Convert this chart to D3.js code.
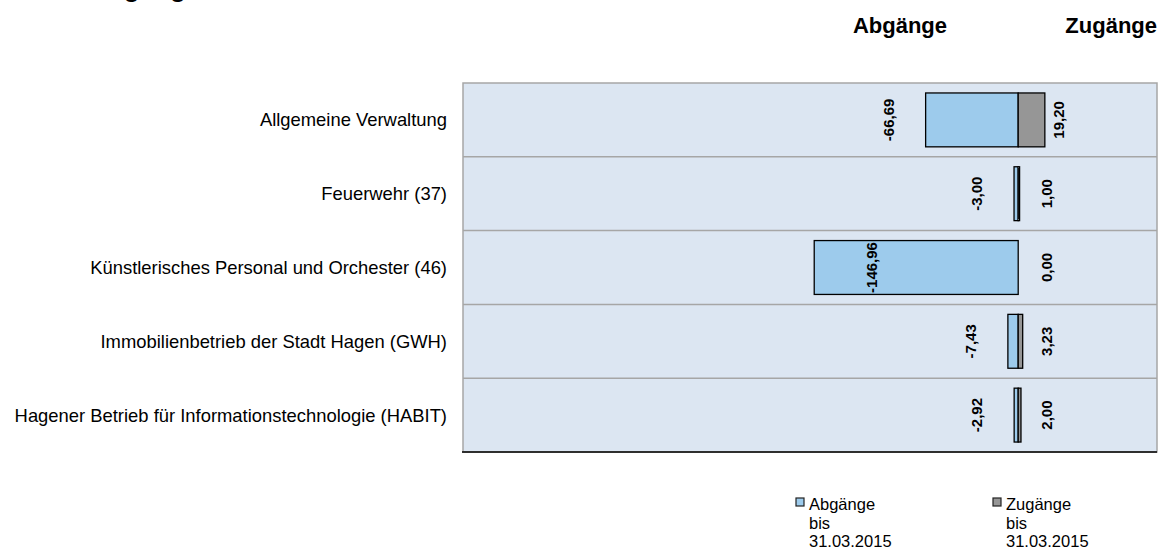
<!DOCTYPE html>
<html>
<head>
<meta charset="utf-8">
<script src="https://d3js.org/d3.v7.min.js"></script>
<style>
  html, body { margin: 0; padding: 0; background: #ffffff; }
  svg { display: block; font-family: "Liberation Sans", Arial, sans-serif; }
</style>
</head>
<body>
<div id="chart"></div>
<script>
// Chart data
const categories = [
    "Allgemeine Verwaltung",
    "Feuerwehr (37)",
    "Künstlerisches Personal und Orchester (46)",
    "Immobilienbetrieb der Stadt Hagen (GWH)",
    "Hagener Betrieb für Informationstechnologie (HABIT)"
];
const abgaenge = [-66.69, -3.00, -146.96, -7.43, -2.92];
const zugaenge = [19.20, 1.00, 0.00, 3.23, 2.00];
const seriesNames = ["Abgänge", "Zugänge"];
const legendNames = ["Abgänge\nbis\n31.03.2015", "Zugänge\nbis\n31.03.2015"];

// Dimensions
const width = 1161;
const height = 550;
const plot = { left: 463, right: 1157, top: 83, bottom: 452 };

const colorAb = "#9dcbec";
const colorZu = "#969696";

// German number format with a plain hyphen as minus sign
const locale = d3.formatLocale({ decimal: ",", thousands: ".", grouping: [3], currency: ["", " €"], minus: "-" });
const fmt = locale.format(".2f");

const x = d3.scaleLinear()
    .domain([-400, 100])
    .range([plot.left, plot.right]);

const rows = d3.scaleBand()
    .domain(categories)
    .range([plot.top, plot.bottom]);

const y = d3.scaleBand()
    .domain(categories)
    .range([plot.top, plot.bottom])
    .paddingInner(0.27)
    .paddingOuter(0.135);

const svg = d3.select("#chart").append("svg")
    .attr("width", width)
    .attr("height", height)
    .attr("viewBox", [0, 0, width, height]);

// Title (cut off at the top in the original)
svg.append("text")
    .attr("x", 92)
    .attr("y", -3)
    .attr("font-size", 26)
    .attr("font-weight", "bold")
    .text("Zugänge");

// Column headers
svg.append("g")
    .attr("font-size", 22)
    .attr("font-weight", "bold")
    .attr("text-anchor", "end")
  .selectAll("text")
  .data(seriesNames)
  .join("text")
    .attr("x", (d, i) => i === 0 ? 947 : plot.right)
    .attr("y", 33)
    .text(d => d);

// Plot background
svg.append("rect")
    .attr("x", plot.left)
    .attr("y", plot.top)
    .attr("width", plot.right - plot.left)
    .attr("height", plot.bottom - plot.top)
    .attr("fill", "#dce6f2")
    .attr("stroke", "#a6a6a6")
    .attr("stroke-width", 1.5);

// Row separators
svg.append("g")
    .attr("stroke", "#a6a6a6")
    .attr("stroke-width", 1.5)
  .selectAll("line")
  .data(categories.slice(1))
  .join("line")
    .attr("x1", plot.left)
    .attr("x2", plot.right)
    .attr("y1", d => rows(d))
    .attr("y2", d => rows(d));

// Bottom axis line
svg.append("line")
    .attr("x1", plot.left - 1)
    .attr("x2", plot.right)
    .attr("y1", plot.bottom)
    .attr("y2", plot.bottom)
    .attr("stroke", "#000")
    .attr("stroke-width", 1.5);

// Category labels
svg.append("g")
    .attr("font-size", 18.4)
    .attr("text-anchor", "end")
    .attr("fill", "#000")
  .selectAll("text")
  .data(categories)
  .join("text")
    .attr("x", 447)
    .attr("y", d => rows(d) + rows.bandwidth() / 2)
    .attr("dy", "0.35em")
    .text(d => d);

const rowsData = categories.map((c, i) => ({ name: c, ab: abgaenge[i], zu: zugaenge[i] }));

// Bars: Abgänge (negative) and Zugänge (positive)
const bars = svg.append("g")
    .attr("stroke", "#000")
    .attr("stroke-width", 1.3);

bars.selectAll("rect.ab")
  .data(rowsData)
  .join("rect")
    .attr("class", "ab")
    .attr("x", d => x(d.ab))
    .attr("y", d => y(d.name))
    .attr("width", d => x(0) - x(d.ab))
    .attr("height", y.bandwidth())
    .attr("fill", colorAb);

bars.selectAll("rect.zu")
  .data(rowsData.filter(d => d.zu > 0))
  .join("rect")
    .attr("class", "zu")
    .attr("x", x(0))
    .attr("y", d => y(d.name))
    .attr("width", d => x(d.zu) - x(0))
    .attr("height", y.bandwidth())
    .attr("fill", colorZu);

// Value labels (rotated)
const labels = svg.append("g")
    .attr("font-size", 15)
    .attr("font-weight", "bold")
    .attr("text-anchor", "middle")
    .attr("fill", "#000");

labels.selectAll("text.ab")
  .data(rowsData)
  .join("text")
    .attr("class", "ab")
    .attr("transform", d => {
        const cx = Math.max(x(d.ab) - 37, x(0) - 146);
        const cy = rows(d.name) + rows.bandwidth() / 2;
        return `translate(${cx},${cy}) rotate(-90)`;
    })
    .attr("dy", "0.35em")
    .text(d => fmt(d.ab));

labels.selectAll("text.zu")
  .data(rowsData)
  .join("text")
    .attr("class", "zu")
    .attr("transform", d => {
        const cx = Math.max(x(d.zu) + 14, x(0) + 29);
        const cy = rows(d.name) + rows.bandwidth() / 2;
        return `translate(${cx},${cy}) rotate(-90)`;
    })
    .attr("dy", "0.35em")
    .text(d => fmt(d.zu));

// Legend
const legend = svg.append("g")
  .selectAll("g")
  .data(legendNames)
  .join("g")
    .attr("transform", (d, i) => `translate(${i === 0 ? 796 : 993},498)`);

legend.append("rect")
    .attr("width", 8)
    .attr("height", 8)
    .attr("fill", (d, i) => i === 0 ? colorAb : colorZu)
    .attr("stroke", "#222")
    .attr("stroke-width", 1.2);

legend.append("text")
    .attr("x", 13)
    .attr("y", 12)
    .attr("font-size", 16.5)
    .attr("fill", "#000")
  .selectAll("tspan")
  .data(d => d.split("\n"))
  .join("tspan")
    .attr("x", 13)
    .attr("dy", (d, i) => i === 0 ? 0 : 18.5)
    .text(d => d);
</script>
</body>
</html>
